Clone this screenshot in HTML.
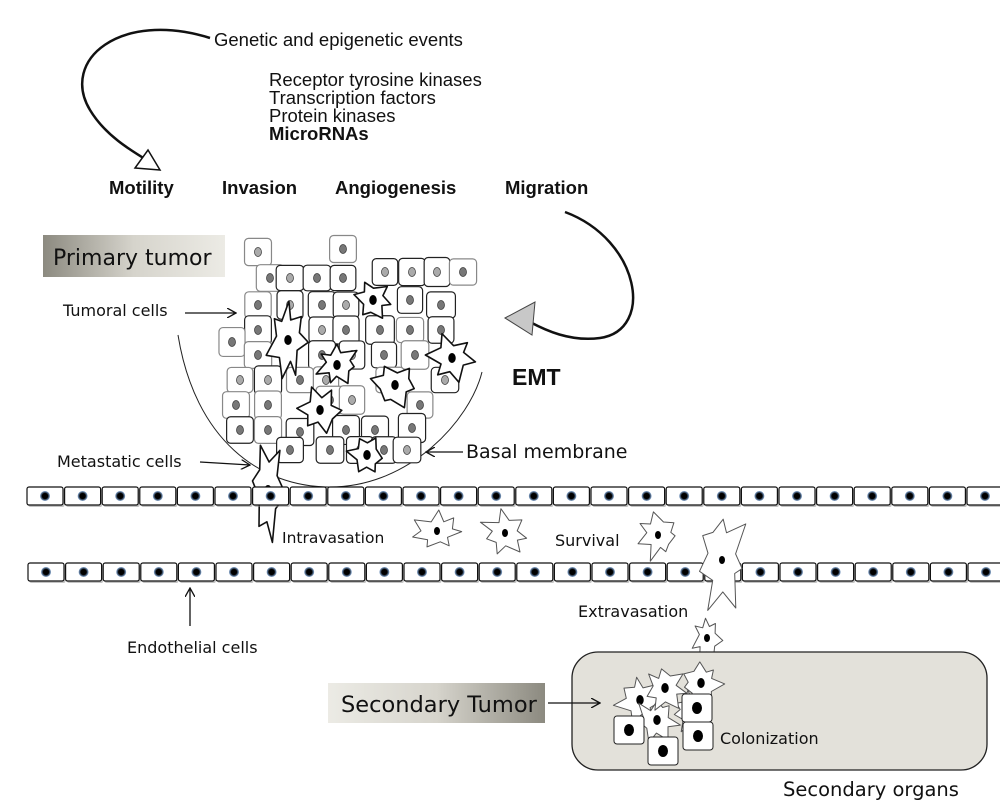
<!DOCTYPE html>
<html><head><meta charset="utf-8"><style>
html,body{margin:0;padding:0;background:#fff;width:1000px;height:811px;overflow:hidden}
svg{display:block}
text{font-family:"Liberation Sans",sans-serif;fill:#111}
.d{font-family:"DejaVu Sans","Liberation Sans",sans-serif}
</style></head><body>
<svg id="s" width="1000" height="811" viewBox="0 0 1000 811" xmlns="http://www.w3.org/2000/svg">
<defs>
<linearGradient id="g1" x1="0" x2="1"><stop offset="0" stop-color="#8c8a80"/><stop offset="0.5" stop-color="#d6d4cc"/><stop offset="1" stop-color="#ecebe5"/></linearGradient>
<linearGradient id="g2" x1="0" x2="1"><stop offset="0" stop-color="#ecebe5"/><stop offset="0.5" stop-color="#d6d4cc"/><stop offset="1" stop-color="#8c8a80"/></linearGradient>
<radialGradient id="nu"><stop offset="0.55" stop-color="#000"/><stop offset="1" stop-color="#3a6fb0" stop-opacity="0.6"/></radialGradient>
<marker id="ar" markerWidth="10" markerHeight="10" refX="9" refY="5" orient="auto" markerUnits="userSpaceOnUse"><path d="M0,0 L9,5 L0,10" fill="none" stroke="#111" stroke-width="1.3"/></marker>
</defs>
<path d="M210,38 C120,10 60,60 90,110 C105,135 130,150 150,162" fill="none" stroke="#111" stroke-width="2.5"/>
<path d="M135,168 L160,170 L148,150 Z" fill="#fff" stroke="#111" stroke-width="1.5"/>
<text x="214" y="46" font-size="18.5">Genetic and epigenetic events</text>
<text x="269" y="86" font-size="18.5">Receptor tyrosine kinases</text>
<text x="269" y="104" font-size="18.5">Transcription factors</text>
<text x="269" y="122" font-size="18.5">Protein kinases</text>
<text x="269" y="140" font-size="18.5" font-weight="bold">MicroRNAs</text>
<text x="109" y="194" font-size="18.5" font-weight="bold">Motility</text>
<text x="222" y="194" font-size="18.5" font-weight="bold">Invasion</text>
<text x="335" y="194" font-size="18.5" font-weight="bold">Angiogenesis</text>
<text x="505" y="194" font-size="18.5" font-weight="bold">Migration</text>
<path d="M565,212 C640,240 655,330 600,338 C570,342 545,330 530,322" fill="none" stroke="#111" stroke-width="2.5"/>
<path d="M505,318 L535,302 L532,335 Z" fill="#c8c8c8" stroke="#444" stroke-width="1"/>
<text x="512" y="385" font-size="23" font-weight="bold">EMT</text>
<rect x="43" y="235" width="182" height="42" fill="url(#g1)"/>
<text class="d" x="53" y="265" font-size="22">Primary tumor</text>
<text class="d" x="63" y="316" font-size="16">Tumoral cells</text>
<line x1="185" y1="313" x2="236" y2="313" stroke="#111" stroke-width="1.3" marker-end="url(#ar)"/>
<text class="d" x="57" y="467" font-size="16">Metastatic cells</text>
<line x1="200" y1="462" x2="250" y2="465" stroke="#111" stroke-width="1.3" marker-end="url(#ar)"/>
<text class="d" x="466" y="458" font-size="19">Basal membrane</text>
<line x1="463" y1="452" x2="426" y2="452" stroke="#111" stroke-width="1.3" marker-end="url(#ar)"/>
<path d="M178,335 C195,440 260,487 330,487 C410,487 470,420 482,372" fill="none" stroke="#222" stroke-width="1"/>
<g id="tumor"></g>
<g id="endo"></g>
<g id="free"></g>
<text class="d" x="282" y="543" font-size="15.5">Intravasation</text>
<text class="d" x="555" y="546" font-size="16">Survival</text>
<text class="d" x="578" y="617" font-size="16">Extravasation</text>
<text class="d" x="127" y="653" font-size="16">Endothelial cells</text>
<line x1="190" y1="626" x2="190" y2="588" stroke="#111" stroke-width="1.3" marker-end="url(#ar)"/>
<rect x="572" y="652" width="415" height="118" rx="26" fill="#e3e1da" stroke="#222" stroke-width="1.3"/>
<rect x="328" y="683" width="217" height="40" fill="url(#g2)"/>
<text class="d" x="341" y="712" font-size="22.5">Secondary Tumor</text>
<line x1="548" y1="703" x2="600" y2="703" stroke="#111" stroke-width="1.3" marker-end="url(#ar)"/>
<g id="sec"></g>
<text class="d" x="720" y="744" font-size="16">Colonization</text>
<text class="d" x="783" y="796" font-size="19.5">Secondary organs</text>
</svg>
<script>
var NS="http://www.w3.org/2000/svg";
function el(p,t,a){var e=document.createElementNS(NS,t);for(var k in a)e.setAttribute(k,a[k]);document.getElementById(p).appendChild(e);return e;}
var seed=7;function r(){seed=(seed*9301+49297)%233280;return seed/233280;}
function row(y,x0,n){for(var i=0;i<n;i++){var x=x0+i*37.6;el("endo","rect",{x:x+1.5,y:y+2,width:36,height:18,rx:2,fill:"#888",opacity:0.5});el("endo","rect",{x:x,y:y,width:36,height:18,rx:2,fill:"#fff",stroke:"#111","stroke-width":1.2});el("endo","circle",{cx:x+18,cy:y+9,r:5,fill:"url(#nu)"});}}
row(487,27,26);row(563,28,26);
function star(g,cx,cy,R,n,dot,sw,sx,sy){sx=sx||1;sy=sy||1;var pts=[];for(var i=0;i<n*2;i++){var a=i*Math.PI/n+r()*0.3;var rr=(i%2?R*(0.55+r()*0.15):R*(0.85+r()*0.4));pts.push((cx+sx*rr*Math.cos(a)).toFixed(1)+","+(cy+sy*rr*Math.sin(a)).toFixed(1));}el(g,"polygon",{points:pts.join(" "),fill:"#fff",stroke:sw>1?"#111":"#555","stroke-width":sw,"stroke-linejoin":"round"});el(g,"ellipse",{cx:cx,cy:cy,rx:dot*0.75,ry:dot,fill:"#000"});}
var cells=[[258,252],[343,249],[270,278],[290,278],[317,278],[343,278],[385,272],[412,272],[437,272],[463,272],[258,305],[290,305],[322,305],[346,305],[410,300],[441,305],[258,330],[322,330],[346,330],[380,330],[410,330],[441,330],[232,342],[258,355],[322,355],[352,355],[384,355],[415,355],[240,380],[268,380],[300,380],[326,380],[390,380],[445,380],[236,405],[268,405],[330,400],[352,400],[420,405],[240,430],[268,430],[300,432],[346,430],[375,430],[412,428],[290,450],[330,450],[360,450],[384,450],[407,450]];
cells.forEach(function(c){var w=25+r()*4,h=25+r()*4;el("tumor","rect",{x:c[0]-w/2,y:c[1]-h/2,width:w,height:h,rx:4,fill:"#fff",stroke:r()>0.4?"#222":"#888","stroke-width":1.2});el("tumor","ellipse",{cx:c[0],cy:c[1],rx:3.5,ry:4.5,fill:r()>0.3?"#777":"#aaa",stroke:"#333","stroke-width":0.7});});
[[288,340,24,7,0.8,1.5],[337,365,20,7,1,1],[373,300,18,6,1,1],[452,358,22,6,1,1],[320,410,22,6,1,1],[395,385,22,6,1,1],[367,455,17,6,1,1.2]].forEach(function(s){star("tumor",s[0],s[1],s[2],s[3],5,1.6,s[4],s[5]);});
star("tumor",268,490,22,6,5,1.6,0.7,2.2);
[[437,531,20,1.2,0.9],[505,533,20,1.1,1],[658,535,20,1,1.1],[722,560,24,1,2],[707,638,14,1,1.5]].forEach(function(s){star("free",s[0],s[1],s[2],7,4,1,s[3],s[4]);});
[[640,700,22],[657,720,20],[701,683,20],[690,712,18],[665,688,20]].forEach(function(s){star("sec",s[0],s[1],s[2],7,5,1);});
[[629,730],[697,708],[698,736],[663,751]].forEach(function(c){el("sec","rect",{x:c[0]-15,y:c[1]-14,width:30,height:28,rx:3,fill:"#fff",stroke:"#222","stroke-width":1});el("sec","ellipse",{cx:c[0],cy:c[1],rx:5,ry:6,fill:"#000"});});
</script>
</body></html>
